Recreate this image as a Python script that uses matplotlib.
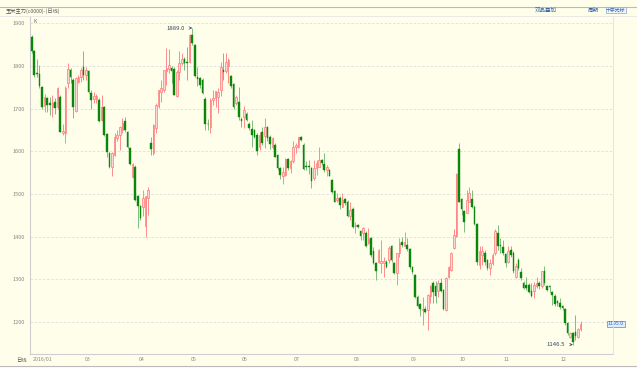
import numpy as np
import matplotlib
matplotlib.use('Agg')
import matplotlib.pyplot as plt

plt.rcParams['font.family'] = ['Noto Sans CJK SC', 'DejaVu Sans']

# 日K线数据 (开, 高, 低, 收)
opens = [1869, 1836, 1784, 1780, 1750, 1706, 1725, 1714, 1703, 1716,
         1703, 1727, 1643, 1643, 1759, 1791, 1767, 1695, 1763, 1775,
         1797, 1779, 1789, 1736, 1723, 1723, 1719, 1673, 1703, 1641,
         1595, 1564, 1591, 1630, 1638, 1650, 1670, 1646, 1607, 1539,
         1564, 1495, 1472, 1470, 1424, 1490, 1619, 1595, 1654, 1705,
         1740, 1744, 1787, 1792, 1795, 1792, 1729, 1786, 1808, 1816,
         1810, 1810, 1873, 1849, 1775, 1771, 1766, 1722, 1664, 1658,
         1719, 1725, 1728, 1744, 1791, 1787, 1799, 1777, 1758, 1712,
         1716, 1675, 1681, 1688, 1664, 1652, 1650, 1638, 1611, 1644,
         1636, 1656, 1633, 1609, 1615, 1591, 1560, 1542, 1545, 1581,
         1560, 1576, 1609, 1611, 1634, 1615, 1565, 1566, 1560, 1537,
         1560, 1564, 1580, 1570, 1555, 1556, 1533, 1506, 1486, 1490,
         1470, 1487, 1480, 1447, 1464, 1425, 1428, 1412, 1408, 1408,
         1384, 1396, 1365, 1337, 1341, 1337, 1337, 1341, 1344, 1377,
         1339, 1314, 1361, 1386, 1377, 1380, 1370, 1328, 1310, 1259,
         1242, 1227, 1231, 1228, 1261, 1291, 1283, 1273, 1292, 1275,
         1228, 1306, 1322, 1373, 1402, 1605, 1488, 1459, 1456, 1482,
         1487, 1470, 1430, 1334, 1357, 1361, 1344, 1326, 1337, 1361,
         1408, 1381, 1375, 1359, 1341, 1369, 1361, 1305, 1345, 1316,
         1291, 1287, 1287, 1273, 1273, 1283, 1291, 1283, 1320, 1283,
         1283, 1271, 1261, 1248, 1245, 1236, 1230, 1198, 1164, 1173,
         1175, 1164, 1183]
highs = [1873, 1838, 1816, 1802, 1752, 1734, 1727, 1727, 1732, 1724,
         1750, 1732, 1665, 1752, 1808, 1795, 1771, 1775, 1779, 1795,
         1836, 1798, 1791, 1744, 1740, 1734, 1725, 1732, 1705, 1643,
         1598, 1599, 1642, 1650, 1659, 1677, 1681, 1648, 1610, 1572,
         1567, 1498, 1474, 1509, 1494, 1517, 1634, 1664, 1712, 1744,
         1767, 1791, 1841, 1839, 1800, 1798, 1791, 1834, 1830, 1822,
         1845, 1875, 1889, 1852, 1798, 1775, 1771, 1728, 1675, 1724,
         1744, 1742, 1748, 1810, 1830, 1830, 1818, 1779, 1760, 1732,
         1750, 1681, 1705, 1691, 1669, 1673, 1652, 1642, 1646, 1656,
         1677, 1660, 1639, 1634, 1619, 1593, 1562, 1564, 1585, 1583,
         1580, 1623, 1619, 1634, 1636, 1619, 1576, 1580, 1564, 1580,
         1580, 1611, 1582, 1595, 1568, 1558, 1535, 1508, 1502, 1496,
         1502, 1490, 1486, 1482, 1470, 1435, 1430, 1416, 1423, 1414,
         1419, 1400, 1375, 1341, 1370, 1392, 1353, 1345, 1377, 1381,
         1341, 1362, 1396, 1400, 1410, 1396, 1372, 1331, 1312, 1263,
         1244, 1259, 1236, 1266, 1287, 1295, 1295, 1298, 1302, 1277,
         1306, 1331, 1364, 1417, 1548, 1619, 1490, 1463, 1509, 1517,
         1509, 1474, 1431, 1377, 1377, 1369, 1347, 1347, 1361, 1417,
         1427, 1396, 1392, 1361, 1377, 1378, 1365, 1337, 1349, 1326,
         1295, 1306, 1291, 1291, 1293, 1306, 1295, 1320, 1330, 1284,
         1287, 1273, 1265, 1252, 1255, 1240, 1232, 1200, 1177, 1177,
         1216, 1185, 1201]
lows = [1830, 1775, 1773, 1748, 1698, 1693, 1693, 1685, 1681, 1688,
        1700, 1646, 1638, 1620, 1748, 1759, 1677, 1693, 1759, 1763,
        1767, 1767, 1736, 1698, 1712, 1714, 1668, 1672, 1635, 1586,
        1560, 1542, 1588, 1625, 1602, 1642, 1646, 1608, 1568, 1537,
        1483, 1420, 1439, 1447, 1400, 1451, 1591, 1591, 1642, 1701,
        1716, 1740, 1755, 1783, 1759, 1732, 1727, 1767, 1802, 1791,
        1767, 1806, 1849, 1775, 1752, 1748, 1734, 1650, 1650, 1642,
        1709, 1703, 1689, 1730, 1767, 1783, 1759, 1748, 1700, 1708,
        1673, 1658, 1654, 1670, 1650, 1611, 1630, 1591, 1603, 1615,
        1608, 1623, 1605, 1605, 1587, 1556, 1535, 1523, 1541, 1556,
        1548, 1572, 1597, 1607, 1623, 1556, 1556, 1547, 1513, 1533,
        1544, 1564, 1568, 1552, 1542, 1541, 1503, 1480, 1480, 1464,
        1470, 1474, 1445, 1439, 1420, 1408, 1420, 1392, 1392, 1375,
        1383, 1353, 1336, 1298, 1337, 1314, 1305, 1326, 1337, 1341,
        1312, 1287, 1352, 1375, 1377, 1365, 1325, 1312, 1255, 1234,
        1214, 1193, 1220, 1181, 1244, 1244, 1244, 1259, 1271, 1228,
        1226, 1302, 1320, 1371, 1400, 1480, 1451, 1410, 1455, 1480,
        1466, 1428, 1333, 1325, 1334, 1334, 1322, 1310, 1334, 1357,
        1369, 1361, 1357, 1328, 1339, 1353, 1314, 1302, 1322, 1298,
        1277, 1275, 1267, 1259, 1255, 1279, 1277, 1279, 1287, 1273,
        1271, 1240, 1238, 1238, 1230, 1228, 1193, 1170, 1162, 1146.5,
        1158, 1162, 1178]
closes = [1834, 1779, 1780, 1752, 1703, 1727, 1709, 1709, 1714, 1701,
          1748, 1646, 1648, 1748, 1794, 1773, 1703, 1771, 1773, 1791,
          1779, 1791, 1740, 1720, 1730, 1730, 1670, 1703, 1638, 1599,
          1564, 1595, 1633, 1638, 1656, 1666, 1650, 1611, 1570, 1570,
          1486, 1472, 1443, 1490, 1494, 1509, 1605, 1662, 1709, 1744,
          1748, 1791, 1795, 1802, 1789, 1732, 1786, 1806, 1816, 1806,
          1806, 1873, 1853, 1777, 1769, 1755, 1736, 1664, 1663, 1720,
          1725, 1742, 1738, 1798, 1785, 1810, 1814, 1752, 1703, 1727,
          1681, 1672, 1697, 1673, 1654, 1638, 1634, 1601, 1638, 1619,
          1658, 1630, 1617, 1630, 1587, 1560, 1545, 1552, 1581, 1560,
          1576, 1611, 1615, 1633, 1627, 1558, 1564, 1563, 1531, 1560,
          1573, 1580, 1572, 1556, 1564, 1542, 1505, 1482, 1490, 1474,
          1486, 1478, 1447, 1463, 1422, 1427, 1423, 1402, 1420, 1378,
          1394, 1357, 1337, 1318, 1369, 1342, 1342, 1328, 1373, 1344,
          1314, 1361, 1384, 1380, 1388, 1370, 1328, 1316, 1258, 1237,
          1231, 1230, 1224, 1263, 1283, 1271, 1261, 1291, 1273, 1230,
          1302, 1328, 1362, 1404, 1547, 1482, 1464, 1435, 1486, 1502,
          1470, 1430, 1341, 1365, 1365, 1341, 1326, 1337, 1357, 1412,
          1377, 1377, 1361, 1337, 1365, 1357, 1318, 1331, 1326, 1302,
          1279, 1279, 1269, 1261, 1287, 1292, 1283, 1318, 1291, 1275,
          1281, 1263, 1242, 1244, 1234, 1232, 1197, 1173, 1173, 1152,
          1166, 1183, 1195]

month_labels = ['2016/01', '03', '04', '05', '06', '07', '08', '09', '10', '11', '12']
month_idx = [0, 20, 41, 61, 81, 101, 124, 146, 165, 182, 204]
yticks = [1200, 1300, 1400, 1500, 1600, 1700, 1800, 1900]

o = np.array(opens, float)
h = np.array(highs, float)
l = np.array(lows, float)
c = np.array(closes, float)
x = np.arange(len(c))
up = c >= o

W, H = 637, 368
bg = '#fffeea'
fig = plt.figure(figsize=(W / 100, H / 100), dpi=100, facecolor=bg)
ax = fig.add_axes([30 / W, 1 - 354 / H, (613 - 30) / W, (354 - 17) / H])
ax.set_facecolor(bg)

# 影线
ax.vlines(x[up], l[up], h[up], color='#ff8c8c', lw=0.7, zorder=2)
ax.vlines(x[~up], l[~up], h[~up], color='#7dbd7d', lw=0.7, zorder=2)
# 实体
ax.bar(x[up], c[up] - o[up], bottom=o[up], width=0.62, facecolor='#ffd6d6',
       edgecolor='#ff7878', lw=0.5, zorder=3)
ax.bar(x[~up], o[~up] - c[~up], bottom=c[~up], width=0.62, facecolor='#0a870a',
       edgecolor='#0a870a', lw=0.3, zorder=3)

ax.set_xlim(-0.66, len(c) - 1 + 12.5)
ax.set_ylim(1124.5, 1914.8)
ax.set_yticks(yticks)
ax.set_yticklabels([str(v) for v in yticks], fontsize=4, color='#888888')
ax.tick_params(axis='y', length=0, pad=4)
ax.set_xticks([])
ax.grid(axis='y', color='#dddddd', lw=0.6, ls=(0, (3, 2)))
for s in ['top', 'right']:
    ax.spines[s].set_visible(False)
ax.spines['left'].set_color('#cfcfcf')
ax.spines['bottom'].set_color('#cfcfcf')
ax.spines['left'].set_linewidth(0.8)

# 月份标签
for lab, i in zip(month_labels, month_idx):
    ax.text(i + 0.3, 1124.5 - 14, lab, fontsize=3.8, color='#888888', va='center', ha='left')
fig.text(16 / W, 1 - 361 / H, '日线', fontsize=3.8, color='#555555', va='center')

# 最高/最低标注
ih = int(np.argmax(h))
il = int(np.argmin(l))
ax.annotate('%.1f' % h[ih], xy=(x[ih], h[ih]), xytext=(x[ih] - 3, h[ih]), fontsize=4.3,
            color='#334466', ha='right', va='center',
            arrowprops=dict(arrowstyle='->', color='#334466', lw=0.5))
ax.annotate('%.1f' % l[il], xy=(x[il], l[il]), xytext=(x[il] - 3, l[il]), fontsize=4.3,
            color='#334466', ha='right', va='center',
            arrowprops=dict(arrowstyle='->', color='#334466', lw=0.5))
ax.text(0.5, 1910, 'K', fontsize=3.5, color='#666666', va='top')

# 右侧最新价
ax.text(len(c) - 1 + 10.5, c[-1], '%.1f' % c[-1], fontsize=3.8, color='#3366cc',
        ha='left', va='center',
        bbox=dict(boxstyle='square,pad=0.15', fc='#ddeeff', ec='#5588cc', lw=0.5))

# 顶部标题栏
fig.add_artist(plt.Line2D([0, 1], [1 - 7 / H, 1 - 7 / H], color='#bbbbbb', lw=0.8))
fig.add_artist(plt.Line2D([0, 1], [1 - 16 / H, 1 - 16 / H], color='#e5e5e5', lw=0.6))
fig.add_artist(plt.Line2D([0, 1], [1 - 366 / H, 1 - 366 / H], color='#bbbbbb', lw=0.8))
fig.add_artist(plt.Line2D([613 / W, 613 / W], [1 - 354 / H, 1 - 17 / H], color='#e0e0e0', lw=0.6))
fig.text(6 / W, 1 - 11.5 / H, '玉米主力(c0000)-(日线)', fontsize=3.8, color='#555555', va='center')
fig.text(535 / W, 1 - 10 / H, '双品叠加', fontsize=4, color='#3366aa', va='center')
fig.text(588 / W, 1 - 10 / H, '周期', fontsize=4, color='#3366aa', va='center')
fig.text(606 / W, 1 - 10 / H, '十字光标', fontsize=3.5, color='#3366aa', va='center',
         bbox=dict(boxstyle='square,pad=0.1', fc='#eef4fa', ec='#88aacc', lw=0.5))

fig.savefig('out.png', dpi=100, facecolor=bg)
